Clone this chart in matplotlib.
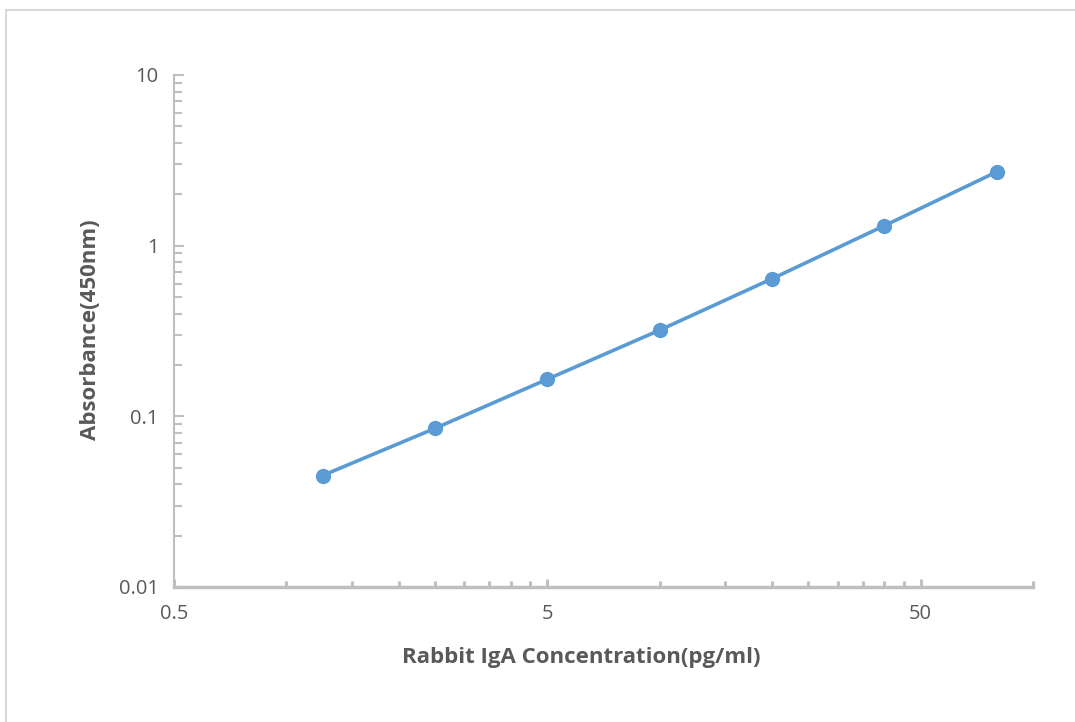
import numpy as np
import matplotlib
matplotlib.use("Agg")
import matplotlib.pyplot as plt
from matplotlib.ticker import FixedLocator, NullFormatter, FixedFormatter
from matplotlib.patches import Rectangle

concentration = [1.25, 2.5, 5, 10, 20, 40, 80]
absorbance = [0.045, 0.085, 0.165, 0.32, 0.64, 1.31, 2.71]

x_major = [0.5, 5, 50]
x_major_labels = ["0.5", "5", "50"]
y_major = [0.01, 0.1, 1, 10]
y_major_labels = ["0.01", "0.1", "1", "10"]

x_label = "Rabbit IgA Concentration(pg/ml)"
y_label = "Absorbance(450nm)"

plt.rcParams['font.family'] = ['Open Sans', 'DejaVu Sans']

W, H = 1075, 722
fig = plt.figure(figsize=(W / 100, H / 100), dpi=100)
fig.patch.set_facecolor("white")

# chart border (top and left visible)
fig.patches.append(Rectangle((6 / W, -0.05), 1.2, 1 - 10 / H + 0.05,
                             transform=fig.transFigure, fill=False,
                             edgecolor="#D9D9D9", linewidth=1.5))

ax = fig.add_axes([174 / W, (H - 587) / H, (1033 - 174) / W, (587 - 75) / H])
ax.set_xscale("log")
ax.set_yscale("log")
ax.set_xlim(0.5, 100)
ax.set_ylim(0.01, 10)

line_color = "#5B9BD5"
ax.plot(concentration, absorbance, color=line_color, linewidth=2.6,
        marker="o", markersize=11, markeredgewidth=0, zorder=3, clip_on=False)

axis_gray = "#BFBFBF"
text_gray = "#595959"
for s in ["top", "right"]:
    ax.spines[s].set_visible(False)
ax.spines["left"].set_color(axis_gray)
ax.spines["left"].set_linewidth(1.5)
ax.spines["bottom"].set_color(axis_gray)
ax.spines["bottom"].set_linewidth(2.5)

x_minor = [0.5 * k * 10 ** d for d in range(3) for k in range(2, 10)]
x_minor = [v for v in x_minor if v <= 100 and v not in x_major]
y_minor = [k * 10.0 ** d for d in range(-2, 1) for k in range(2, 10)]

ax.xaxis.set_major_locator(FixedLocator(x_major))
ax.xaxis.set_major_formatter(FixedFormatter(x_major_labels))
ax.xaxis.set_minor_locator(FixedLocator(x_minor))
ax.xaxis.set_minor_formatter(NullFormatter())
ax.yaxis.set_major_locator(FixedLocator(y_major))
ax.yaxis.set_major_formatter(FixedFormatter(y_major_labels))
ax.yaxis.set_minor_locator(FixedLocator(y_minor))
ax.yaxis.set_minor_formatter(NullFormatter())

ax.tick_params(axis="x", which="major", direction="in", length=6, width=2.2,
               color=axis_gray, labelcolor=text_gray, labelsize=14.5, pad=12)
ax.tick_params(axis="x", which="minor", direction="in", length=4.5, width=2.2,
               color=axis_gray)
ax.tick_params(axis="y", which="major", direction="in", length=7, width=1.5,
               color=axis_gray, labelcolor=text_gray, labelsize=14.5, pad=11)
ax.tick_params(axis="y", which="minor", direction="in", length=6, width=1.5,
               color=axis_gray)

fig.text(581 / W, 1 - 658 / H, x_label, ha="center", va="center",
         fontsize=16, fontweight="bold", color=text_gray)
fig.text(90 / W, 1 - 330 / H, y_label, ha="center", va="center",
         rotation=90, fontsize=16, fontweight="bold", color=text_gray)

fig.savefig("out.png", dpi=100, facecolor="white")
